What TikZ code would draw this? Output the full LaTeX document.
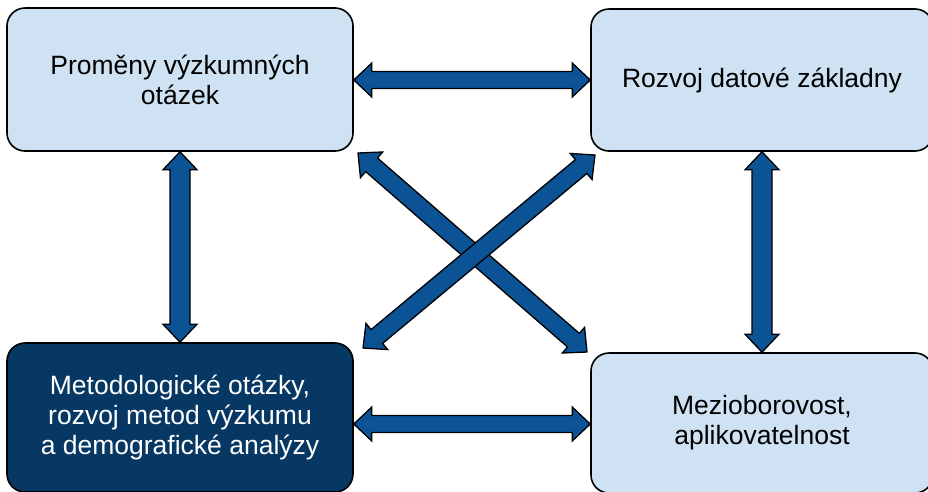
\documentclass[tikz,border=0pt]{standalone}
\usepackage{fontspec}
\setmainfont{Liberation Sans}
\usetikzlibrary{calc}
\definecolor{boxlight}{HTML}{CFE2F3}
\definecolor{boxdark}{HTML}{073763}
\definecolor{arrowblue}{HTML}{0B5394}
\tikzset{
  boxbase/.style={draw=black, line width=1.6pt, rounded corners=18pt, align=center,
    inner sep=0pt, font=\fontsize{26.5}{30}\selectfont},
  lightbox/.style={boxbase, fill=boxlight, text=black},
  darkbox/.style={boxbase, fill=boxdark, text=white},
  blockarr/.style={draw=black, line width=1.3pt, fill=arrowblue, line join=miter},
}
% block double arrow between two named points; #1 = shaft half width
\newcommand\blockarrow[3][9]{%
  \path (#2) coordinate (bas) (#3) coordinate (bae);
  \path ($(bas)!18pt!(bae)$) coordinate (bah) ($(bae)!18pt!(bas)$) coordinate (baf);
  \draw[blockarr] (bas)
    -- ($(bah)!17pt!90:(bae)$) -- ($(bah)!#1pt!90:(bae)$)
    -- ($(baf)!#1pt!-90:(bas)$) -- ($(baf)!17pt!-90:(bas)$)
    -- (bae)
    -- ($(baf)!17pt!90:(bas)$) -- ($(baf)!#1pt!90:(bas)$)
    -- ($(bah)!#1pt!-90:(bae)$) -- ($(bah)!17pt!-90:(bae)$)
    -- cycle;
}
\begin{document}
\begin{tikzpicture}[x=1pt, y=-1pt]
\useasboundingbox (0,0) rectangle (928,491);
\clip (0,0) rectangle (928,491);
\fill[white] (0,0) rectangle (928,491);

\node[lightbox, minimum width=346pt, minimum height=143pt] (tl) at (180,79.5)
  {Proměny výzkumných\\otázek};
\node[lightbox, minimum width=342pt, minimum height=142pt] (tr) at (762,80)
  {Rozvoj datové základny};
\node[darkbox, minimum width=346pt, minimum height=149pt] (bl) at (180,417.5)
  {Metodologické otázky,\\rozvoj metod výzkumu\\a demografické analýzy};
\node[lightbox, minimum width=342pt, minimum height=140pt] (br) at (762,423)
  {Mezioborovost,\\aplikovatelnost};

% arrow end points
\coordinate (h1a) at (tl.east |- 0,80);
\coordinate (h1b) at (tr.west |- 0,80);
\coordinate (h2a) at (bl.east |- 0,424);
\coordinate (h2b) at (br.west |- 0,424);
\coordinate (v1a) at (tl.south);
\coordinate (v1b) at (bl.north);
\coordinate (v2a) at (tr.south);
\coordinate (v2b) at (br.north);
\coordinate (d1a) at (358,153);
\coordinate (d1b) at (587,352);
\coordinate (d2a) at (363,348);
\coordinate (d2b) at (595,155);

\blockarrow[8.5]{h1a}{h1b}
\blockarrow[8.5]{h2a}{h2b}
\blockarrow[10]{v1a}{v1b}
\blockarrow[10]{v2a}{v2b}
\blockarrow[9]{d1a}{d1b}
\blockarrow[9]{d2a}{d2b}
\end{tikzpicture}
\end{document}
